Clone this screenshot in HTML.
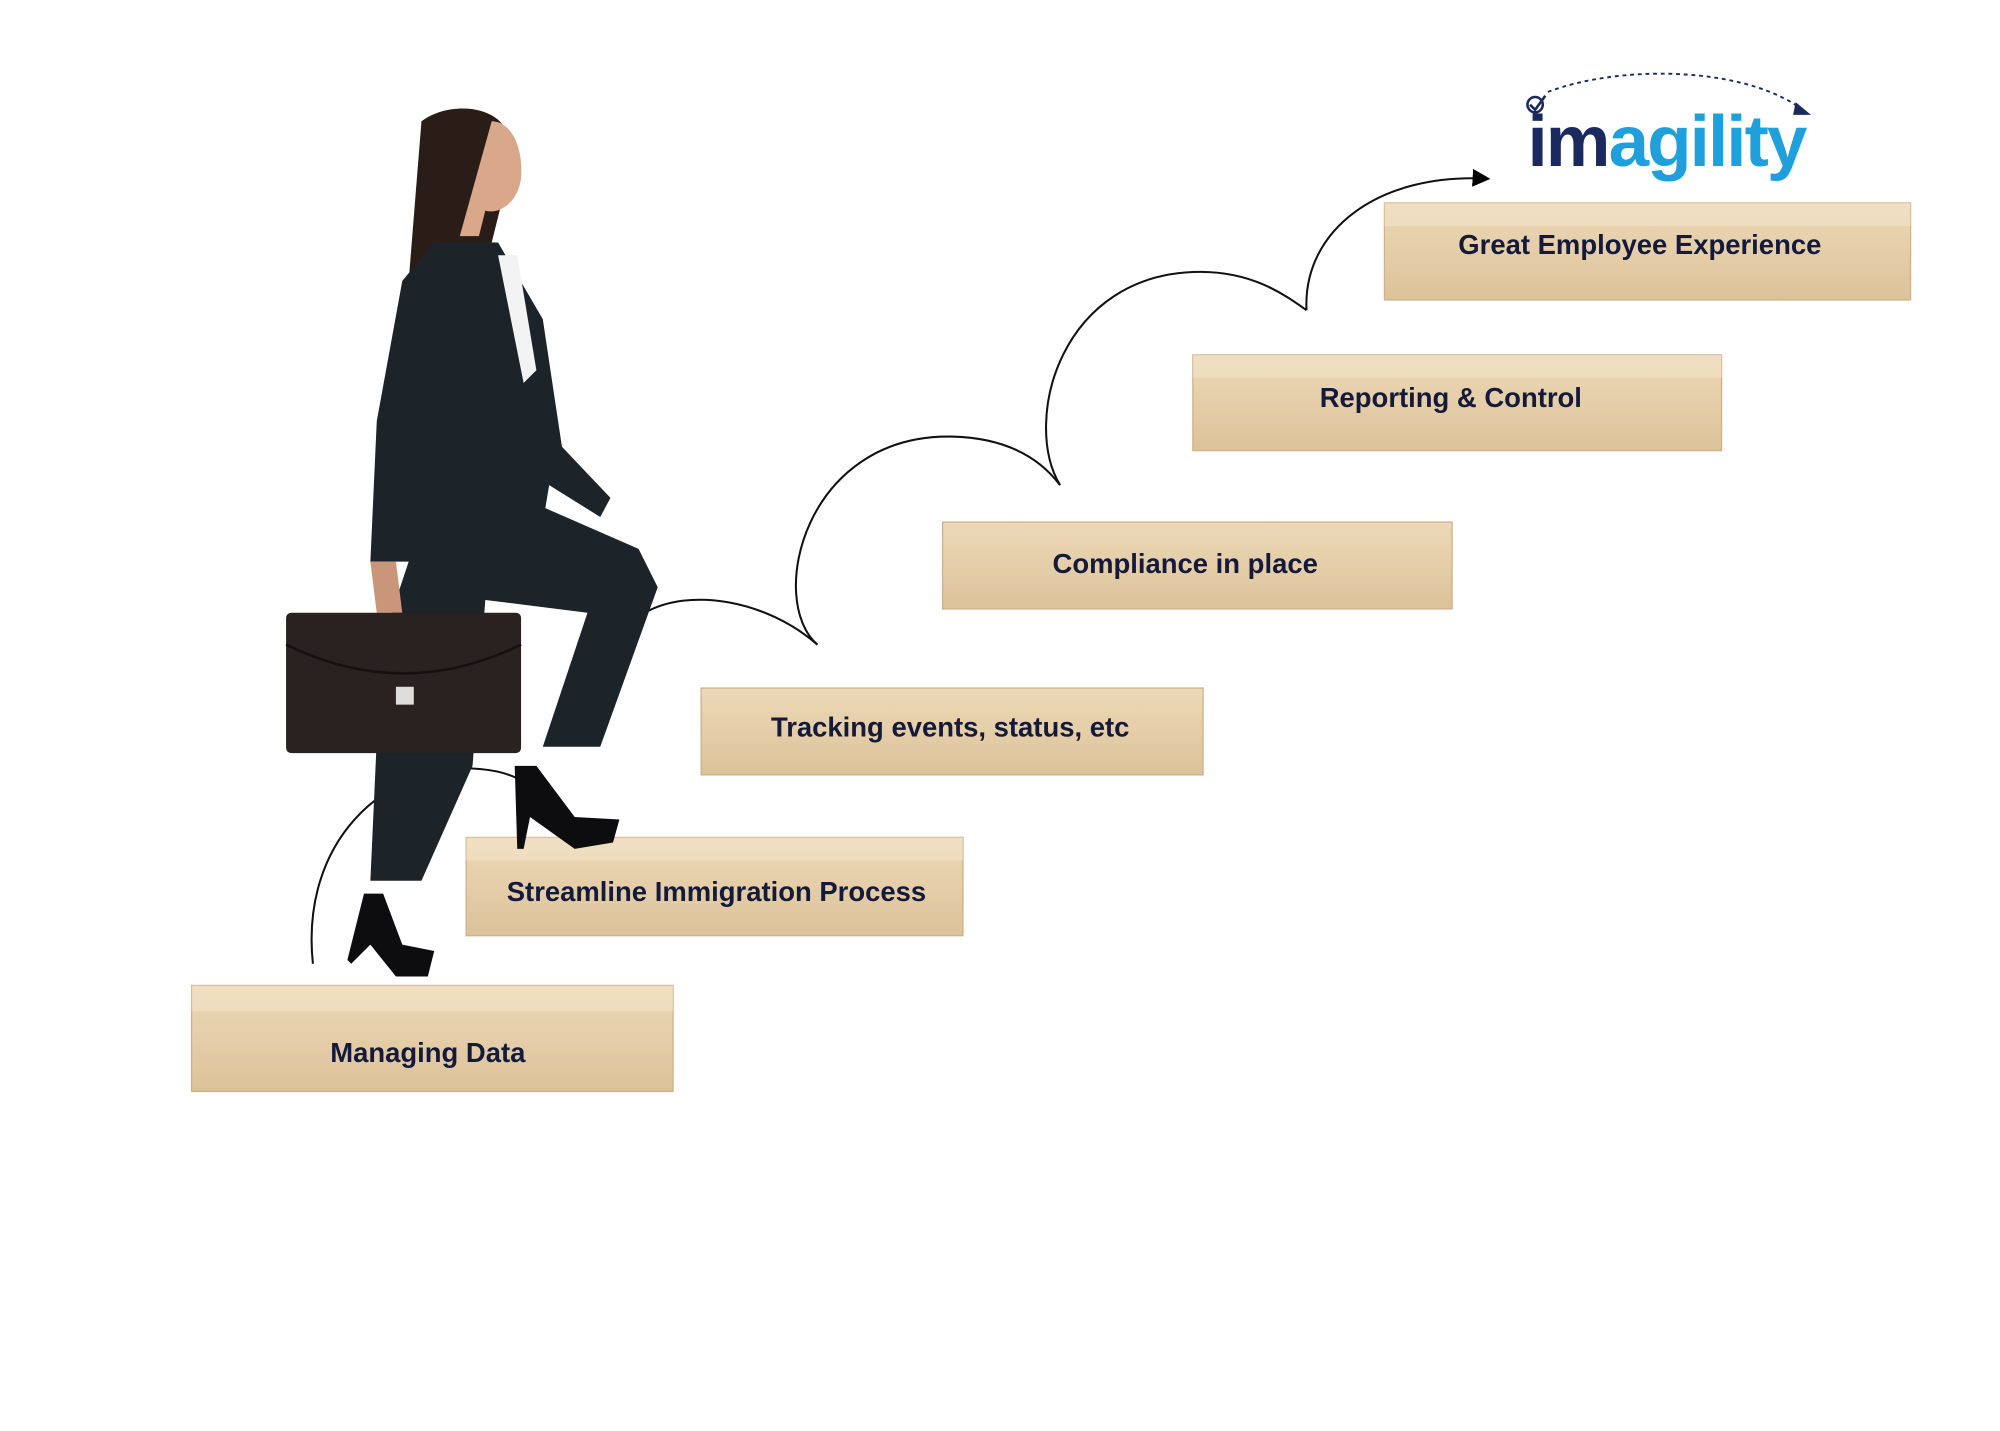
<!DOCTYPE html>
<html><head><meta charset="utf-8"><style>
html,body{margin:0;padding:0;background:#fff;}
svg{display:block;}
text{font-family:"Liberation Sans",sans-serif;font-weight:bold;}
</style></head><body>
<svg width="2000" height="1431" viewBox="0 0 1566 1121" preserveAspectRatio="none" xmlns="http://www.w3.org/2000/svg">
<defs>
<linearGradient id="wood" x1="0" y1="0" x2="0" y2="1">
<stop offset="0" stop-color="#ecd9b8"/><stop offset="0.3" stop-color="#e8d2ae"/><stop offset="1" stop-color="#dcc29a"/>
</linearGradient>
<marker id="ah" markerWidth="14" markerHeight="14" refX="12" refY="7" orient="auto" markerUnits="userSpaceOnUse"><path d="M0,0 L14,7 L0,14 z" fill="#000"/></marker>
</defs>
<g fill="url(#wood)" stroke="#cdb189" stroke-width="1">
<rect x="150" y="772" width="377" height="83"/>
<rect x="365" y="656" width="389" height="77"/>
<rect x="549" y="539" width="393" height="68"/>
<rect x="738" y="409" width="399" height="68"/>
<rect x="934" y="278" width="414" height="75"/>
<rect x="1084" y="159" width="412" height="76"/>
</g>
<g fill="#f1e2c8" opacity="0.6">
<rect x="150" y="772" width="377" height="20"/>
<rect x="365" y="656" width="389" height="18"/>
<rect x="934" y="278" width="414" height="18"/>
<rect x="1084" y="159" width="412" height="18"/>
</g>
<g fill="#141a3a" font-size="21.5" text-anchor="middle">
<text x="335" y="832">Managing Data</text>
<text x="561" y="706">Streamline Immigration Process</text>
<text x="744" y="577">Tracking events, status, etc</text>
<text x="928" y="449">Compliance in place</text>
<text x="1136" y="319">Reporting &amp; Control</text>
<text x="1284" y="199">Great Employee Experience</text>
</g>
<g fill="none" stroke="#111" stroke-width="1.6">
<path d="M245,755 C235,660 300,600 370,602 C390,603 400,607 410,612"/>
<path d="M505,480 C540,460 600,470 640,505"/>
<path d="M640,505 C600,470 630,340 745,342 C790,343 815,360 830,380"/>
<path d="M830,380 C800,330 830,213 940,213 C980,213 1005,230 1023,243"/>
<path d="M1023,243 C1020,180 1080,135 1165,140" marker-end="url(#ah)"/>
</g>
<g fill="#1c2329">
<path d="M330,95 C350,80 385,82 395,100 L400,130 L385,190 L340,230 L320,220 Z" fill="#2a1d18"/>
<path d="M385,95 C400,95 410,115 408,140 C405,160 390,168 380,165 L375,185 L360,185 Z" fill="#d9a88a"/>
<path d="M340,190 L390,190 L425,250 L440,350 L478,390 L470,405 L430,380 L420,440 L340,440 L290,440 L295,330 L315,220 Z"/>
<path d="M390,200 L405,200 L420,290 L410,300 Z" fill="#f3f3f3"/>
<path d="M320,440 L420,395 L500,430 L515,460 L470,585 L425,585 L460,480 L380,470 L370,600 L330,690 L290,690 L295,580 L300,500 Z"/>
<path d="M403,600 L420,600 L450,640 L485,642 L480,660 L450,665 L415,640 L410,665 L405,665 Z" fill="#0d0d10"/>
<path d="M285,700 L300,700 L315,740 L340,745 L335,765 L310,765 L290,740 L275,755 L272,752 Z" fill="#0d0d10"/>
<path d="M290,440 L310,440 L315,480 L295,480 Z" fill="#c9967a"/>
</g>
<rect x="224" y="480" width="184" height="110" rx="4" fill="#2a2220"/>
<path d="M224,505 Q316,550 408,505" fill="none" stroke="#161110" stroke-width="2"/>
<rect x="310" y="538" width="14" height="14" fill="#ddd"/>
<path d="M1212,72 C1270,50 1370,52 1414,88" fill="none" stroke="#1b2a5e" stroke-width="1.5" stroke-dasharray="3,3"/>
<path d="M1406,80 L1418,90 L1404,90 z" fill="#1b2a5e"/>
<circle cx="1202" cy="82" r="6" fill="none" stroke="#1b2a5e" stroke-width="2"/>
<path d="M1198,82 L1202,86 L1210,75" fill="none" stroke="#1b2a5e" stroke-width="2"/>
<text x="1196" y="130" font-size="57" letter-spacing="-1.5"><tspan fill="#1b2a5e">im</tspan><tspan fill="#1fa0dc">agility</tspan></text>
</svg>
</body></html>
